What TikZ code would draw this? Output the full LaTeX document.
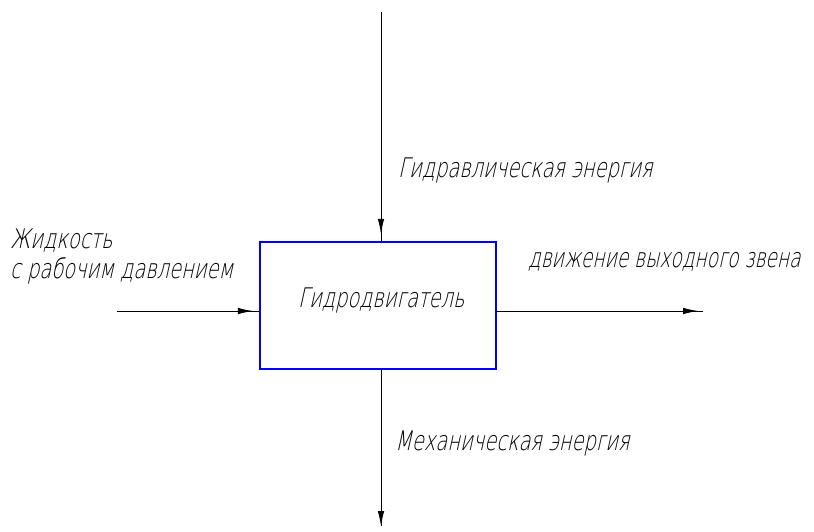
\documentclass[tikz,border=0pt]{standalone}
\usepackage{fontspec}
\newfontfamily\gost[FakeSlant=0.22,FakeStretch=0.72]{DejaVu Sans ExtraLight}
\newfontfamily\gostnarrow[FakeSlant=0.22,FakeStretch=0.69]{DejaVu Sans ExtraLight}
\usetikzlibrary{arrows.meta,decorations.markings}
\tikzset{
  flow/.style={draw=black, line width=0.9pt},
  tipat/.style={postaction={decorate, decoration={markings,
     mark=at position #1 with {\arrow{Latex[length=15pt,width=6.5pt]}}}}},
  lbl/.style={anchor=base west, inner sep=0pt, font=\gost\fontsize{27}{32}\selectfont},
  lblnarrow/.style={lbl, font=\gostnarrow\fontsize{27}{32}\selectfont},
  block/.style={draw=blue, line width=2.4pt, minimum width=236pt, minimum height=127pt, inner sep=0pt}
}
\begin{document}
\begin{tikzpicture}[x=1pt,y=-1pt]
\useasboundingbox (0,0) rectangle (814,531);
\node[block] (box) at (378,305.5) {};
\node[lbl] (tmain) at (298,307) {Гидродвигатель};
\coordinate (topend) at (381,12);
\coordinate (botend) at (381,526);
\coordinate (leftend) at (117,311);
\coordinate (rightend) at (703,311);
\draw[flow, tipat=-7pt] (topend) -- (topend |- box.north);
\draw[flow, tipat=1] (botend |- box.south) -- (botend);
\draw[flow, tipat=-6pt] (leftend) -- (leftend -| box.west);
\draw[flow, tipat=-5pt] (rightend -| box.east) -- (rightend);
\node[lbl] (ttop) at (398,177) {Гидравлическая энергия};
\node[lbl] (tleft1) at (10,248) {Жидкость};
\node[lbl] (tleft2) at (10,278) {с рабочим давлением};
\node[lblnarrow] (tright) at (528,267) {движение выходного звена};
\node[lbl] (tbot) at (395,450) {Механическая энергия};
\end{tikzpicture}
\end{document}
